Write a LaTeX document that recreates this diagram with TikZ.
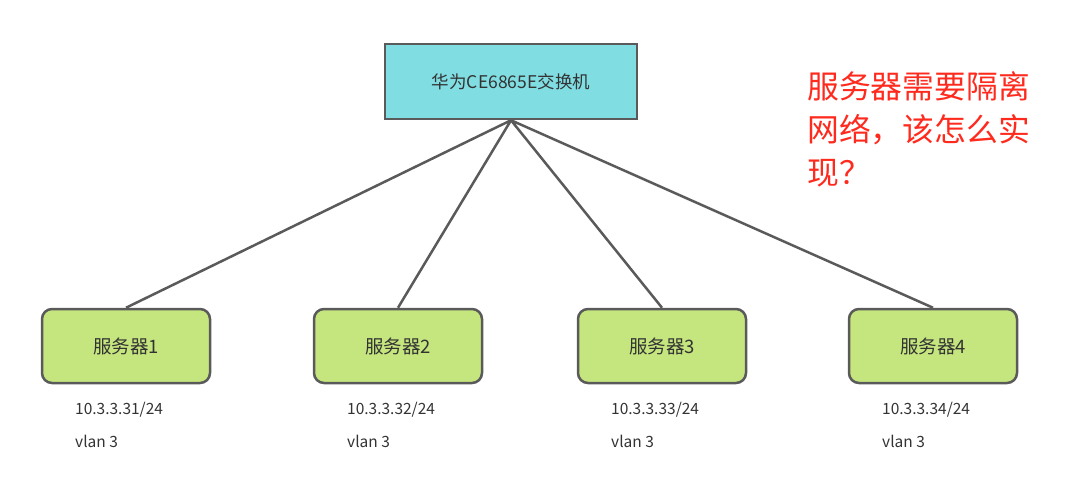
\documentclass[tikz,border=0pt]{standalone}
\usepackage{fontspec}
\setmainfont{Noto Sans CJK SC}
\usepackage{tikz}
\usetikzlibrary{positioning,shapes}
\definecolor{switchfill}{HTML}{80DEE3}
\definecolor{serverfill}{HTML}{C5E67E}
\definecolor{edgegray}{HTML}{5A5A5A}
\definecolor{asktext}{HTML}{FF2A1E}
\tikzset{
    %Define style for the switch box
    switchbox/.style={
   	rectangle,
   	draw=edgegray, line width=2.5pt,
   	minimum width=252pt,
   	minimum height=75pt,
   	font=\fontsize{17.5}{20}\selectfont,
   	text=black!80,
   	text centered,
   	fill=switchfill
   },
    %Define style for the servers
    serverbox/.style={
   	rectangle,
   	rounded corners=10pt,
   	draw=edgegray, line width=2.5pt,
   	minimum width=168pt,
   	minimum height=74pt,
   	font=\fontsize{18.5}{21}\selectfont,
   	text=black!80,
   	text centered,
   	fill=serverfill
   },
    % Define style for the address texts
    addr/.style={
   	anchor=west,
   	inner sep=0pt,
   	font=\fontsize{15.5}{18}\selectfont,
   	text=black!80
   },
    % Define link style
    link/.style={
           draw=edgegray,
           line width=2.5pt},
}
\begin{document}
\begin{tikzpicture}[x=1pt,y=-1pt]
\useasboundingbox (0,0) rectangle (1075,478);
%nodes
\node[switchbox](sw) at (511,81.5){华为CE6865E交换机};
\node[serverbox](s1) at (126,346){服务器1};
\node[serverbox](s2) at (398,346){服务器2};
\node[serverbox](s3) at (662,346){服务器3};
\node[serverbox](s4) at (933,346){服务器4};
%address labels
\node[addr](ip1) at (75,410){10.3.3.31/24};
\node[addr,below=17pt of ip1.south west,anchor=north west](v1){vlan 3};
\node[addr](ip2) at (347,410){10.3.3.32/24};
\node[addr,below=17pt of ip2.south west,anchor=north west](v2){vlan 3};
\node[addr](ip3) at (611,410){10.3.3.33/24};
\node[addr,below=17pt of ip3.south west,anchor=north west](v3){vlan 3};
\node[addr](ip4) at (882,410){10.3.3.34/24};
\node[addr,below=17pt of ip4.south west,anchor=north west](v4){vlan 3};
%question
\node[anchor=north west,inner sep=0pt,align=left,text=asktext,
font=\fontsize{31.8}{43}\selectfont](ask) at (807,71){服务器需要隔离\\网络，该怎么实\\现？};
%links
\path[link]
(sw.south) -- (s1.north)
(sw.south) -- (s2.north)
(sw.south) -- (s3.north)
(sw.south) -- (s4.north);
\end{tikzpicture}
\end{document}
